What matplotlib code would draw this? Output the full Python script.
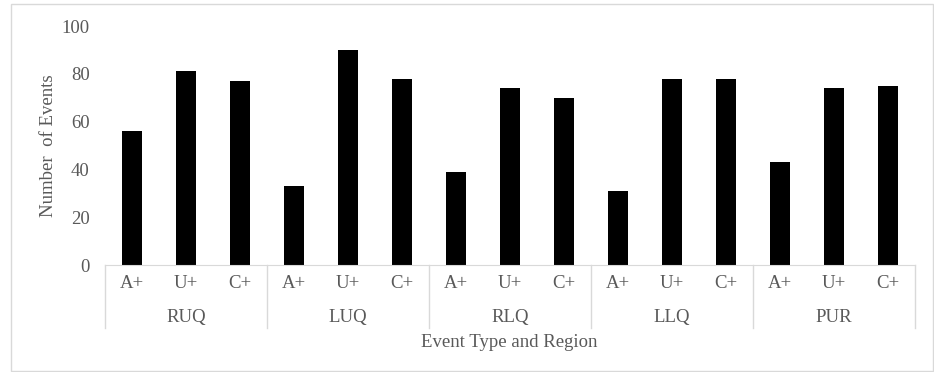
import matplotlib.pyplot as plt
from matplotlib.patches import Rectangle

regions = ["RUQ", "LUQ", "RLQ", "LLQ", "PUR"]
event_types = ["A+", "U+", "C+"]
counts = [
    [56, 81, 77],
    [33, 90, 78],
    [39, 74, 70],
    [31, 78, 78],
    [43, 74, 75],
]

plt.rcParams['font.family'] = ['Liberation Serif', 'DejaVu Serif']
text_color = "#595959"
line_color = "#d9d9d9"
fs = 13.5

fig = plt.figure(figsize=(9.34, 3.72), dpi=100)
ax = fig.add_axes([0.1124, 0.2876, 0.8673, 0.6425])

xs = []
heights = []
labels = []
for g, region in enumerate(regions):
    for i, et in enumerate(event_types):
        xs.append(g * 3 + i)
        heights.append(counts[g][i])
        labels.append(et)

ax.bar(xs, heights, width=0.36, color="black")
ax.set_xlim(-0.5, len(xs) - 0.5)
ax.set_ylim(0, 100)
ax.set_yticks(range(0, 101, 20))
ax.tick_params(axis="y", length=0, colors=text_color, labelsize=fs, pad=11)
ax.set_xticks(xs)
ax.set_xticklabels(labels)
ax.tick_params(axis="x", length=0, colors=text_color, labelsize=fs, pad=7)

for side in ["top", "right", "left"]:
    ax.spines[side].set_visible(False)
ax.spines["bottom"].set_color(line_color)

# group separators below the axis
trans = ax.get_xaxis_transform()
for g in range(len(regions) + 1):
    xpos = g * 3 - 0.5
    ax.plot([xpos, xpos], [0, -0.264], color=line_color, lw=1,
            transform=trans, clip_on=False)
for g, region in enumerate(regions):
    ax.text(g * 3 + 1, -0.22, region, transform=trans, ha="center",
            va="center", fontsize=fs, color=text_color)

ax.set_ylabel("Number  of Events", fontsize=fs, color=text_color, labelpad=3)
fig.text(0.545, 0.078, "Event Type and Region", ha="center", va="center",
         fontsize=fs, color=text_color)

fig.patches.append(Rectangle((11 / 934, 1 / 372), 922 / 934, 367 / 372,
                             transform=fig.transFigure, fill=False,
                             edgecolor=line_color, lw=1))

fig.savefig("out.png", dpi=100)
